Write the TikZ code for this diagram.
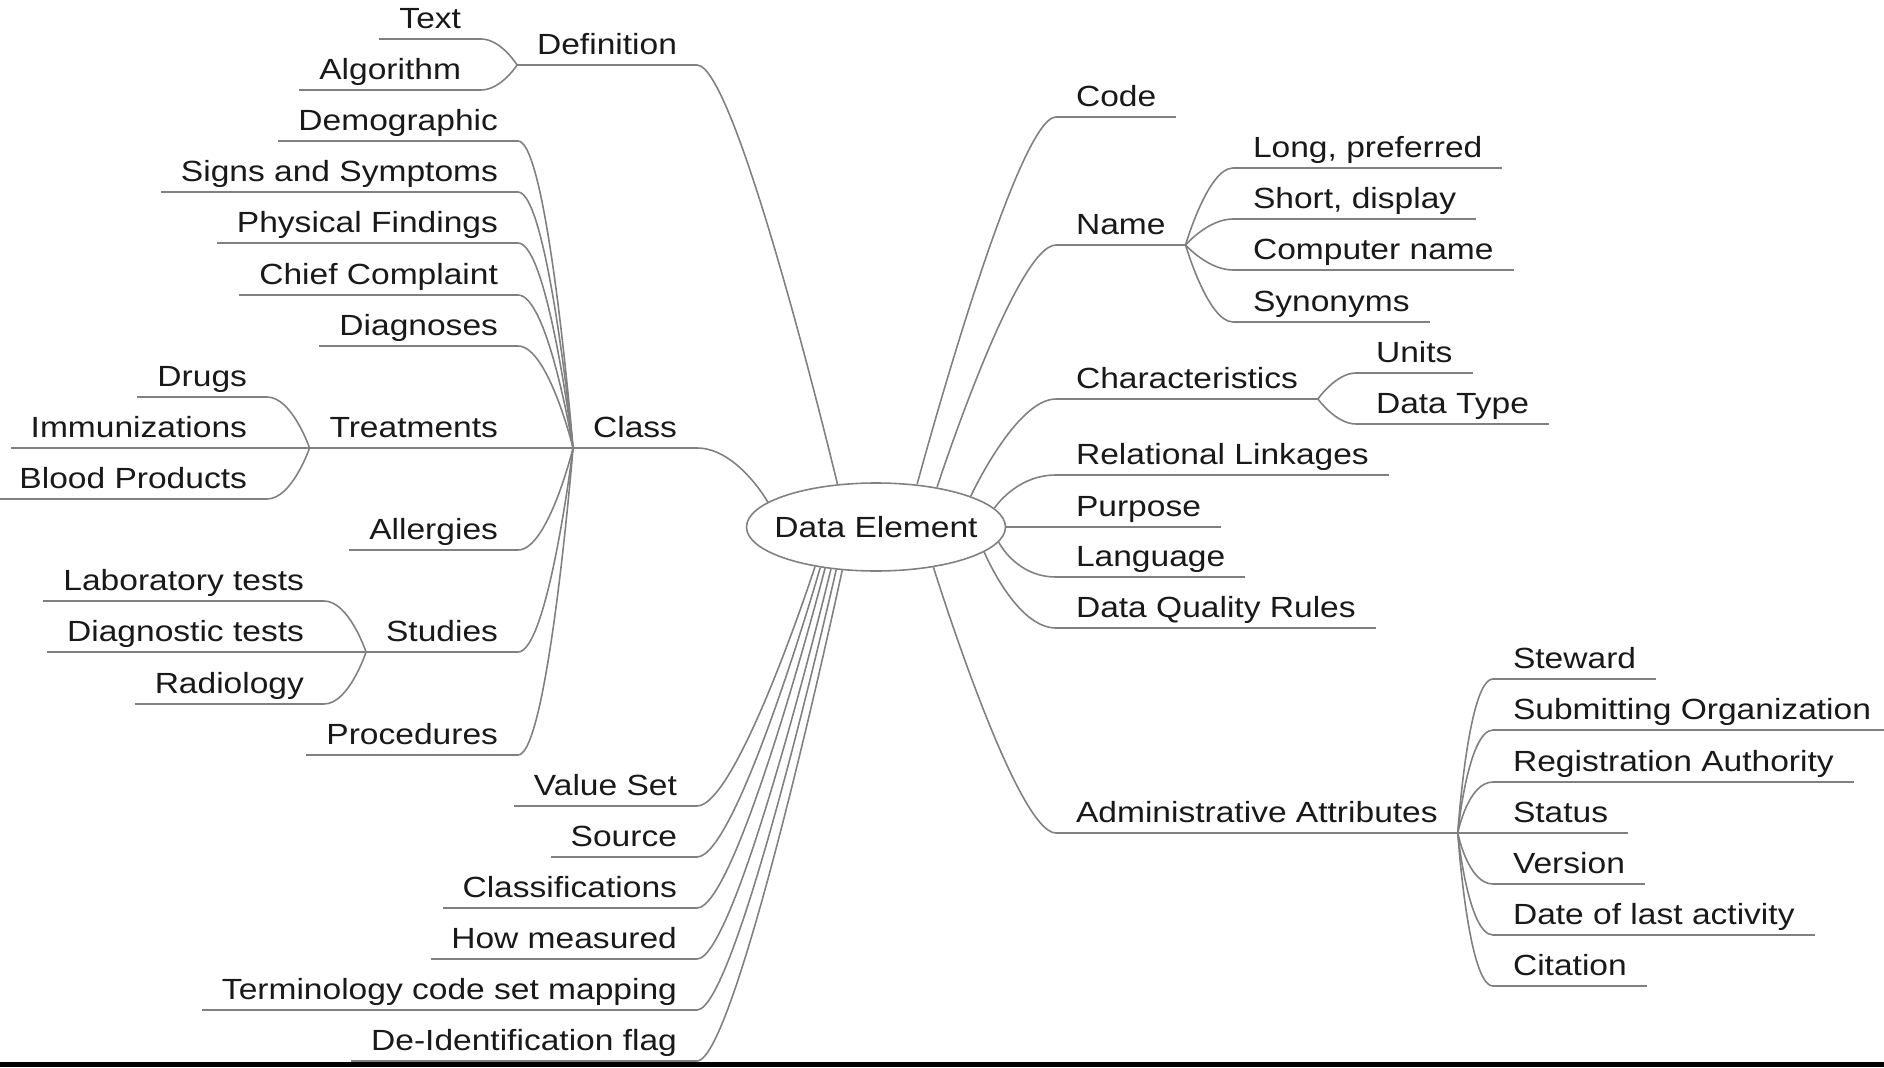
\documentclass[tikz,border=0pt]{standalone}
\usepackage{fontspec}
\setmainfont{Liberation Sans}[FakeStretch=1.15]
\usetikzlibrary{shapes.geometric}
\definecolor{linegray}{RGB}{128,128,128}

\begin{document}
\begin{tikzpicture}[
    hub/.style={
        ellipse,
        draw=linegray,
        fill=white,
        line width=0.45pt,
        minimum width=2.59cm,
        minimum height=0.88cm,
        inner sep=0pt
    },
    leaf/.style={
        inner xsep=5.5pt,
        inner ysep=2.7pt,
        text depth=0pt,
        text=black!90,
        font=\fontsize{8.3}{10}\selectfont
    },
    westleaf/.style={leaf, anchor=south east},
    eastleaf/.style={leaf, anchor=south west},
    branch/.style={draw=linegray, line width=0.45pt},
    rightbend/.style={to path={.. controls (\tikztostart) and ([xshift=-#1]\tikztotarget) .. (\tikztotarget)}},
    rightbend/.default=0.4cm,
    leftbend/.style={to path={.. controls (\tikztostart) and ([xshift=#1]\tikztotarget) .. (\tikztotarget)}},
    leftbend/.default=0.4cm
]

\useasboundingbox (0,0) rectangle (18.84,10.67);

% Black strip at the bottom edge
\fill[black] (0,0) rectangle (18.84,0.05);

% Central element
\node[hub, label={[leaf]center:Data Element}] (de) at (8.76, 5.40) {};

% === Left side ===
\node[westleaf] (definition) at (6.97, 10.02) {Definition};
\node[westleaf] (textdef) at (4.81, 10.28) {Text};
\node[westleaf] (algorithm) at (4.81, 9.77) {Algorithm};

\node[westleaf] (class) at (6.97, 6.19) {Class};
\node[westleaf] (demographic) at (5.18, 9.26) {Demographic};
\node[westleaf] (signs) at (5.18, 8.75) {Signs and Symptoms};
\node[westleaf] (findings) at (5.18, 8.24) {Physical Findings};
\node[westleaf] (complaint) at (5.18, 7.72) {Chief Complaint};
\node[westleaf] (diagnoses) at (5.18, 7.21) {Diagnoses};
\node[westleaf] (treatments) at (5.18, 6.19) {Treatments};
\node[westleaf] (allergies) at (5.18, 5.17) {Allergies};
\node[westleaf] (studies) at (5.18, 4.15) {Studies};
\node[westleaf] (procedures) at (5.18, 3.12) {Procedures};

\node[westleaf] (drugs) at (2.67, 6.70) {Drugs};
\node[westleaf] (immunizations) at (2.67, 6.19) {Immunizations};
\node[westleaf] (bloodproducts) at (2.67, 5.68) {Blood Products};

\node[westleaf] (labtests) at (3.24, 4.66) {Laboratory tests};
\node[westleaf] (diagtests) at (3.24, 4.15) {Diagnostic tests};
\node[westleaf] (radiology) at (3.24, 3.63) {Radiology};

\node[westleaf] (valueset) at (6.97, 2.61) {Value Set};
\node[westleaf] (source) at (6.97, 2.10) {Source};
\node[westleaf] (classifications) at (6.97, 1.59) {Classifications};
\node[westleaf] (measured) at (6.97, 1.08) {How measured};
\node[westleaf] (mapping) at (6.97, 0.57) {Terminology code set mapping};
\node[westleaf] (deident) at (6.97, 0.06) {De-Identification flag};

% === Right side ===
\node[eastleaf] (code) at (10.56, 9.50) {Code};
\node[eastleaf] (name) at (10.56, 8.22) {Name};
\node[eastleaf] (longname) at (12.33, 8.99) {Long, preferred};
\node[eastleaf] (shortname) at (12.33, 8.48) {Short, display};
\node[eastleaf] (computername) at (12.33, 7.97) {Computer name};
\node[eastleaf] (synonyms) at (12.33, 7.45) {Synonyms};

\node[eastleaf] (chars) at (10.56, 6.68) {Characteristics};
\node[eastleaf] (units) at (13.56, 6.94) {Units};
\node[eastleaf] (datatype) at (13.56, 6.43) {Data Type};

\node[eastleaf] (linkages) at (10.56, 5.92) {Relational Linkages};
\node[eastleaf] (purpose) at (10.56, 5.40) {Purpose};
\node[eastleaf] (language) at (10.56, 4.90) {Language};
\node[eastleaf] (quality) at (10.56, 4.39) {Data Quality Rules};

\node[eastleaf] (admin) at (10.56, 2.34) {Administrative Attributes};
\node[eastleaf] (steward) at (14.93, 3.88) {Steward};
\node[eastleaf] (submitting) at (14.93, 3.37) {Submitting Organization};
\node[eastleaf] (registration) at (14.93, 2.85) {Registration Authority};
\node[eastleaf] (status) at (14.93, 2.34) {Status};
\node[eastleaf] (version) at (14.93, 1.83) {Version};
\node[eastleaf] (lastactivity) at (14.93, 1.32) {Date of last activity};
\node[eastleaf] (citation) at (14.93, 0.81) {Citation};

% Underlines
\foreach \n in {definition, textdef, algorithm, class, demographic, signs, findings,
    complaint, diagnoses, treatments, allergies, studies, procedures, drugs,
    immunizations, bloodproducts, labtests, diagtests, radiology, valueset, source,
    classifications, measured, mapping, deident, code, name, longname, shortname,
    computername, synonyms, chars, units, datatype, linkages, purpose, language,
    quality, admin, steward, submitting, registration, status, version,
    lastactivity, citation}
    \draw[branch] (\n.south west) -- (\n.south east);

% Main branches
\foreach \a/\n in {132/definition, 167/class, -147/valueset, -144/source,
    -141/classifications, -137/measured, -133/mapping, -128/deident}
    \draw[branch] (de.\a) to[leftbend] (\n.south east);
\foreach \a/\n in {46/code, 33/name, 18/chars, 9/linkages, 0/purpose,
    -7/language, -13/quality, -35/admin}
    \draw[branch] (de.\a) to[rightbend] (\n.south west);

% Sub-branches
\foreach \n in {textdef, algorithm}
    \draw[branch] (definition.south west) to[leftbend=0.2cm] (\n.south east);
\foreach \n in {demographic, signs, findings, complaint, diagnoses, treatments,
    allergies, studies, procedures}
    \draw[branch] (class.south west) to[leftbend=0.3cm] (\n.south east);
\foreach \n in {drugs, immunizations, bloodproducts}
    \draw[branch] (treatments.south west) to[leftbend=0.25cm] (\n.south east);
\foreach \n in {labtests, diagtests, radiology}
    \draw[branch] (studies.south west) to[leftbend=0.25cm] (\n.south east);
\foreach \n in {longname, shortname, computername, synonyms}
    \draw[branch] (name.south east) to[rightbend=0.25cm] (\n.south west);
\foreach \n in {units, datatype}
    \draw[branch] (chars.south east) to[rightbend=0.2cm] (\n.south west);
\foreach \n in {steward, submitting, registration, status, version,
    lastactivity, citation}
    \draw[branch] (admin.south east) to[rightbend=0.25cm] (\n.south west);

\end{tikzpicture}
\end{document}
